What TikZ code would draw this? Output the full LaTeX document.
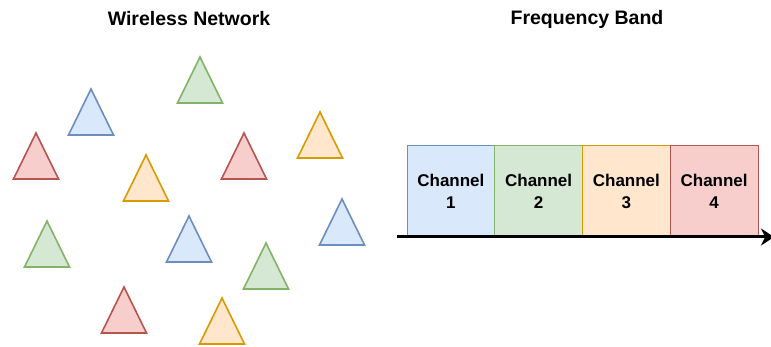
\documentclass[tikz,border=0pt]{standalone}
\usepackage{fontspec}
\setmainfont{Liberation Sans}
\usetikzlibrary{positioning,arrows.meta}

\definecolor{bluefill}{HTML}{DAE8FC}
\definecolor{blueline}{HTML}{6C8EBF}
\definecolor{greenfill}{HTML}{D5E8D4}
\definecolor{greenline}{HTML}{82B366}
\definecolor{orangefill}{HTML}{FFE6CC}
\definecolor{orangeline}{HTML}{D79B00}
\definecolor{redfill}{HTML}{F8CECC}
\definecolor{redline}{HTML}{B85450}

\tikzset{
  bl/.style={draw=blueline, fill=bluefill},
  gr/.style={draw=greenline, fill=greenfill},
  or/.style={draw=orangeline, fill=orangefill},
  rd/.style={draw=redline, fill=redfill},
  title/.style={font=\bfseries\fontsize{19.5}{22}\selectfont},
  chan/.style={rectangle, line width=1pt, minimum width=87.75pt, minimum height=91pt,
    inner sep=0pt, outer sep=0pt, align=center, font=\bfseries\fontsize{17}{22}\selectfont}
}

\begin{document}
\begin{tikzpicture}[x=1pt, y=-1pt, line width=1.6pt, line join=miter]
  \useasboundingbox (0,0) rectangle (771,347);
  \node[title] (wn) at (189,19) {Wireless Network};
  \node[title] (fb) at (587,19) {Frequency Band};
  % stations: apex x, apex y, colour
  \foreach \x/\y/\c in {200/57/gr, 91/89/bl, 36/133/rd, 146/155/or, 244/133/rd,
      320/112/or, 47/221/gr, 189/216/bl, 342/199/bl, 266/243/gr, 124/287/rd, 222/298/or}
    \draw[\c] (\x,\y) -- ++(22.5,46) -- ++(-45,0) -- cycle;
  % channels
  \node[chan, bl, anchor=north west] (c1) at (407,145.5) {Channel\\1};
  \node[chan, gr, right=0pt of c1] (c2) {Channel\\2};
  \node[chan, or, right=0pt of c2] (c3) {Channel\\3};
  \node[chan, rd, right=0pt of c3] (c4) {Channel\\4};
  \coordinate (axl) at (397,237);
  \coordinate (axr) at (774,237);
  \draw[line width=3pt, -{Stealth[length=13pt, width=17pt]}] (axl) -- (axr);
\end{tikzpicture}
\end{document}
